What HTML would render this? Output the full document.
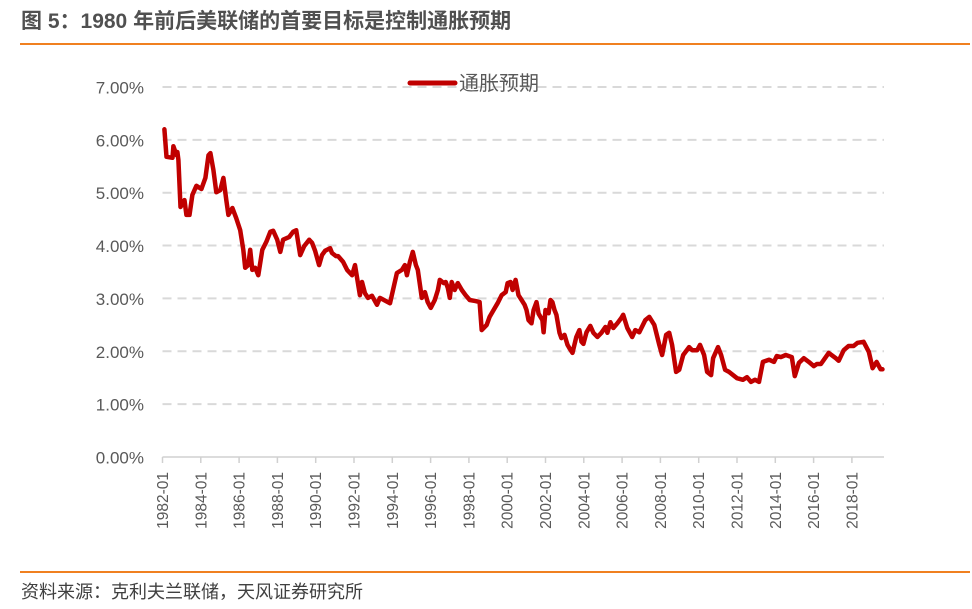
<!DOCTYPE html>
<html><head><meta charset="utf-8">
<style>
body{margin:0;background:#fff;width:972px;height:609px;overflow:hidden;font-family:"Liberation Sans","Noto Sans CJK SC",sans-serif;}
.title{position:absolute;left:21px;top:9px;font-size:21px;line-height:26px;font-weight:bold;color:#505050;white-space:nowrap;}
.rule{position:absolute;left:20px;width:950px;height:2px;background:#f08020;}
.src{position:absolute;left:21px;top:580px;font-size:18px;line-height:24px;color:#404040;white-space:nowrap;}
</style></head><body>
<div class="title">图 5：1980 年前后美联储的首要目标是控制通胀预期</div>
<div class="rule" style="top:43px"></div>
<svg id="chart" width="972" height="609" style="position:absolute;left:0;top:0"></svg>
<div class="rule" style="top:571px"></div>
<div class="src">资料来源：克利夫兰联储，天风证券研究所</div>
<script>
const yTicks=[0,1,2,3,4,5,6,7];
const xTickYears=[1982,1984,1986,1988,1990,1992,1994,1996,1998,2000,2002,2004,2006,2008,2010,2012,2014,2016,2018];
const dates=[1982.10,1982.21,1982.52,1982.57,1982.73,1982.78,1982.83,1982.94,1983.15,1983.25,1983.41,1983.56,1983.77,1984.03,1984.24,1984.40,1984.50,1984.66,1984.81,1985.02,1985.18,1985.33,1985.44,1985.65,1985.85,1986.06,1986.22,1986.32,1986.48,1986.58,1986.69,1986.84,1987.00,1987.21,1987.42,1987.63,1987.78,1987.99,1988.15,1988.30,1988.61,1988.82,1988.98,1989.19,1989.40,1989.66,1989.81,1989.97,1990.18,1990.33,1990.49,1990.75,1990.85,1991.06,1991.17,1991.43,1991.64,1991.90,1992.05,1992.31,1992.42,1992.57,1992.73,1992.94,1993.20,1993.35,1993.88,1994.24,1994.50,1994.66,1994.76,1994.92,1995.07,1995.23,1995.33,1995.54,1995.70,1995.85,1996.01,1996.22,1996.38,1996.48,1996.69,1996.79,1996.90,1997.00,1997.10,1997.26,1997.42,1997.63,1997.83,1998.04,1998.35,1998.56,1998.67,1998.93,1999.08,1999.29,1999.50,1999.71,1999.92,2000.02,2000.18,2000.28,2000.44,2000.59,2000.75,2000.91,2001.01,2001.11,2001.27,2001.38,2001.53,2001.64,2001.84,2001.90,2002.00,2002.16,2002.26,2002.36,2002.47,2002.57,2002.73,2002.83,2002.99,2003.15,2003.25,2003.41,2003.51,2003.61,2003.77,2003.88,2003.98,2004.14,2004.34,2004.50,2004.71,2004.92,2005.13,2005.23,2005.39,2005.54,2005.75,2005.96,2006.06,2006.27,2006.53,2006.69,2006.90,2007.21,2007.42,2007.68,2007.94,2008.09,2008.30,2008.46,2008.61,2008.82,2008.98,2009.19,2009.50,2009.66,2009.92,2010.07,2010.28,2010.44,2010.65,2010.75,2011.01,2011.17,2011.38,2011.58,2012.00,2012.31,2012.52,2012.73,2012.94,2013.15,2013.35,2013.67,2013.93,2014.08,2014.29,2014.55,2014.86,2015.02,2015.23,2015.49,2015.75,2016.01,2016.17,2016.38,2016.79,2017.16,2017.31,2017.57,2017.83,2018.09,2018.30,2018.61,2018.88,2019.08,2019.29,2019.50,2019.60];
const values=[6.20,5.68,5.66,5.88,5.71,5.77,5.62,4.73,4.86,4.58,4.58,4.96,5.13,5.07,5.28,5.71,5.75,5.43,5.01,5.05,5.28,4.86,4.58,4.71,4.52,4.29,3.92,3.58,3.63,3.92,3.54,3.58,3.44,3.92,4.07,4.26,4.28,4.11,3.88,4.11,4.16,4.26,4.29,3.82,3.99,4.11,4.05,3.90,3.63,3.82,3.90,3.95,3.86,3.80,3.80,3.69,3.54,3.44,3.63,3.06,3.31,3.10,3.01,3.05,2.88,3.01,2.91,3.48,3.54,3.63,3.44,3.69,3.88,3.63,3.54,3.01,3.12,2.93,2.82,2.97,3.16,3.35,3.29,3.31,3.20,3.01,3.31,3.16,3.29,3.16,3.06,2.97,2.95,2.93,2.40,2.50,2.65,2.78,2.91,3.06,3.12,3.29,3.31,3.16,3.35,3.06,2.97,2.88,2.78,2.59,2.53,2.78,2.93,2.71,2.59,2.36,2.78,2.72,2.97,2.93,2.78,2.69,2.35,2.25,2.31,2.12,2.06,1.97,2.12,2.27,2.40,2.18,2.14,2.36,2.48,2.35,2.27,2.35,2.46,2.35,2.55,2.44,2.53,2.63,2.69,2.44,2.27,2.40,2.36,2.59,2.65,2.50,2.12,1.93,2.31,2.35,2.12,1.61,1.65,1.93,2.08,2.02,2.02,2.12,1.93,1.61,1.55,1.87,2.08,1.93,1.65,1.61,1.49,1.46,1.51,1.42,1.46,1.42,1.80,1.84,1.80,1.91,1.89,1.93,1.89,1.53,1.78,1.87,1.80,1.72,1.76,1.76,1.97,1.87,1.82,2.02,2.10,2.10,2.16,2.18,1.99,1.68,1.80,1.66,1.66];

const svg=document.getElementById('chart');
const NS='http://www.w3.org/2000/svg';
const X0=162.5,PX_YR=19.15,Y0=457,PX_PCT=52.86,XR=884;
function xS(y){return X0+(y-1982)*PX_YR;}
function yS(v){return Y0-v*PX_PCT;}
function mk(tag,attrs,parent){const e=document.createElementNS(NS,tag);for(const k in attrs)e.setAttribute(k,attrs[k]);(parent||svg).appendChild(e);return e;}

yTicks.forEach(t=>{
  if(t>0){
    const g=mk('line',{x1:X0,x2:XR,y1:yS(t),y2:yS(t),stroke:'#d9d9d9','stroke-width':2,'stroke-dasharray':'9,6'});
    
    
  }
  const l=mk('text',{x:144,y:yS(t)+6.5,'text-anchor':'end','font-size':17,fill:'#595959','font-family':'Liberation Sans, sans-serif'});
  l.textContent=t.toFixed(2)+'%';
  
  
});
const ax=mk('line',{x1:X0,x2:XR,y1:Y0,y2:Y0,stroke:'#d0d0d0','stroke-width':1.5});


xTickYears.forEach(yr=>{
  const x=xS(yr);
  const tk=mk('line',{x1:x,x2:x,y1:Y0,y2:Y0+6,stroke:'#d0d0d0','stroke-width':1.5});
  
  
  const t=mk('text',{x:0,y:0,'text-anchor':'end','font-size':15.5,fill:'#595959','font-family':'Liberation Sans, sans-serif',transform:`translate(${x+5.5},${Y0+15}) rotate(-90)`});
  t.textContent=yr+'-01';
  
  
});
const d=dates.map((dt,i)=>(i?'L':'M')+xS(dt).toFixed(1)+','+yS(values[i]).toFixed(1)).join(' ');
const p=mk('path',{d:d,fill:'none',stroke:'#c00000','stroke-width':4.5,'stroke-linejoin':'round','stroke-linecap':'round'});


const lg=mk('g',{});


mk('line',{x1:410,x2:455,y1:83,y2:83,stroke:'#c00000','stroke-width':5,'stroke-linecap':'round'},lg);
const lt=mk('text',{x:459,y:90,'font-size':20,fill:'#595959','font-family':'Liberation Sans, Noto Sans CJK SC, sans-serif'},lg);
lt.textContent='通胀预期';
</script>
</body></html>
